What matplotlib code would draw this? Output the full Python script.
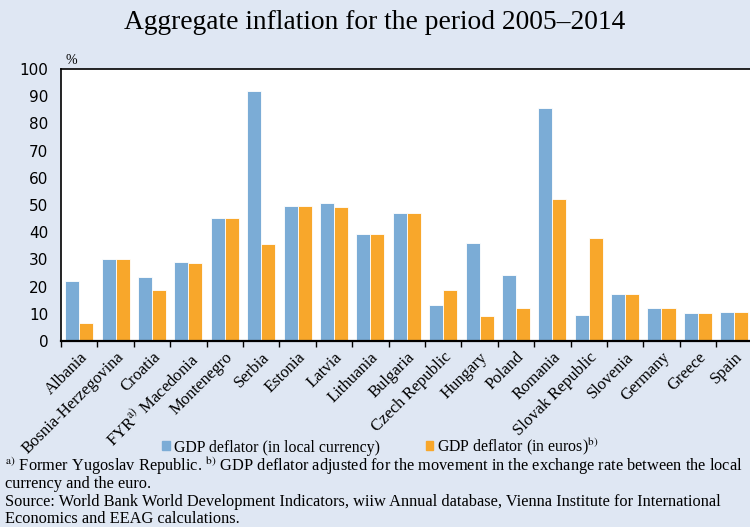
import numpy as np
import matplotlib
matplotlib.use("Agg")
import matplotlib.pyplot as plt
from matplotlib.patches import Patch

# Dados
paises = ["Albania", "Bosnia-Herzegovina", "Croatia", "FYR$^{\\mathrm{a)}}$ Macedonia",
          "Montenegro", "Serbia", "Estonia", "Latvia", "Lithuania", "Bulgaria",
          "Czech Republic", "Hungary", "Poland", "Romania", "Slovak Republic",
          "Slovenia", "Germany", "Greece", "Spain"]
moeda_local = [22.0, 30.2, 23.5, 29.2, 45.1, 92.0, 49.6, 50.7, 39.2, 46.9,
               13.3, 36.2, 24.3, 85.5, 9.7, 17.4, 12.3, 10.4, 10.6]
em_euros = [6.6, 30.2, 18.9, 28.5, 45.1, 35.6, 49.6, 49.4, 39.2, 46.9,
            18.6, 9.1, 12.3, 52.2, 38.0, 17.4, 12.3, 10.4, 10.6]
yticks = list(range(0, 101, 10))

azul = "#7bacd6"
laranja = "#f8a72b"
fundo = "#dfe7f3"

plt.rcParams["mathtext.fontset"] = "stix"
serif = "Liberation Serif"

fig = plt.figure(figsize=(7.5, 5.27), dpi=100)
fig.patch.set_facecolor(fundo)
ax = fig.add_axes([0.0813, 0.353, 0.922, 0.516])

x = np.arange(len(paises))
w = 0.385
ax.bar(x - w / 2, moeda_local, w, color=azul, edgecolor="white", linewidth=0.6)
ax.bar(x + w / 2, em_euros, w, color=laranja, edgecolor="white", linewidth=0.6)

ax.set_xlim(-0.5, len(paises) - 0.5)
ax.set_ylim(0, 100)
ax.set_yticks(yticks)
ax.tick_params(axis="y", length=0, labelsize=11, pad=9)
for lb in ax.get_yticklabels():
    lb.set_fontfamily("DejaVu Sans")

ax.set_xticks(x)
ax.set_xticklabels(paises, rotation=45, ha="right", rotation_mode="anchor",
                   fontsize=12, fontfamily=serif)
ax.tick_params(axis="x", which="major", length=0, pad=6)
ax.set_xticks(np.arange(-0.5, len(paises) - 0.4, 1), minor=True)
ax.tick_params(axis="x", which="minor", length=4, width=1, direction="out")

for s in ["top", "left"]:
    ax.spines[s].set_linewidth(1.2)
ax.spines["bottom"].set_linewidth(1.6)
ax.spines["right"].set_visible(False)

fig.text(0.5, 0.958, "Aggregate inflation for the period 2005\u20132014",
         ha="center", va="center", fontsize=19.8, fontfamily=serif)
fig.text(0.087, 0.885, "%", ha="left", va="center", fontsize=10, fontfamily=serif)

handles = [Patch(color=azul), Patch(color=laranja)]
fig.legend(handles, ["GDP deflator (in local currency)", "GDP deflator (in euros)$^{\\mathrm{b)}}$"],
           loc="center", bbox_to_anchor=(0.507, 0.152), ncol=2, frameon=False,
           prop={"family": serif, "size": 11.4}, handlelength=0.5, handleheight=0.5,
           handletextpad=0.25, columnspacing=2.9, borderpad=0.1)

notas = [
    "$^{\\mathrm{a)}}$ Former Yugoslav Republic. $^{\\mathrm{b)}}$ GDP deflator adjusted for the movement in the exchange rate between the local",
    "currency and the euro.",
    "Source: World Bank World Development Indicators, wiiw Annual database, Vienna Institute for International",
    "Economics and EEAG calculations.",
]
ys = [0.116, 0.082, 0.048, 0.016]
for t, yy in zip(notas, ys):
    fig.text(0.007, yy, t, ha="left", va="center", fontsize=11.8, fontfamily=serif)

fig.savefig("out.png", dpi=100, facecolor=fundo)
